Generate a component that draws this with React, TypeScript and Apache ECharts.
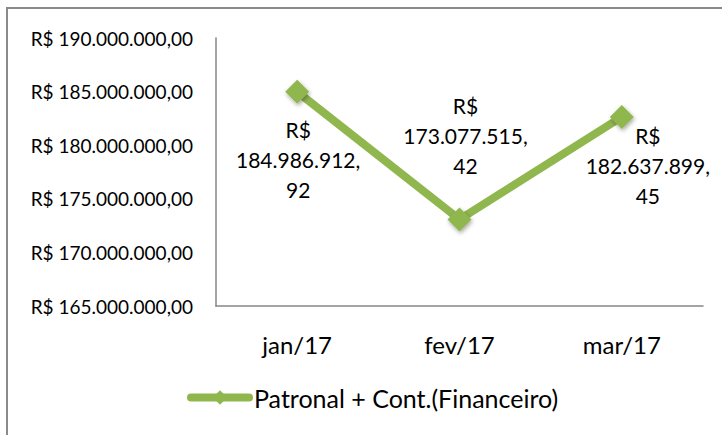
import React, { useEffect, useRef } from "react";
import * as echarts from "echarts";

const categories = ["jan/17", "fev/17", "mar/17"];
const seriesName = "Patronal + Cont.(Financeiro)";
const values = [184986912.92, 173077515.42, 182637899.45];
const yMin = 165000000;
const yMax = 190000000;
const yInterval = 5000000;
const labelOffsets: [number, number][] = [
  [1, 68],
  [6, -84],
  [26, 49],
];

const FONT = "Lato";
const GREEN = "#8FB74E";

function fmtBRL(v: number): string {
  const fixed = v.toFixed(2);
  const [intPart, dec] = fixed.split(".");
  const withDots = intPart.replace(/\B(?=(\d{3})+(?!\d))/g, ".");
  return `R$ ${withDots},${dec}`;
}

function fmtLabel(v: number): string {
  const fixed = v.toFixed(2);
  const [intPart, dec] = fixed.split(".");
  const withDots = intPart.replace(/\B(?=(\d{3})+(?!\d))/g, ".");
  return `R$\n${withDots},\n${dec}`;
}

export default function App() {
  const ref = useRef<HTMLDivElement>(null);
  useEffect(() => {
    if (!ref.current) return;
    const chart = echarts.init(ref.current, null, { renderer: "svg" });
    chart.setOption({
      animation: false,
      backgroundColor: "#ffffff",
      textStyle: { fontFamily: FONT },
      grid: { left: 216, right: 19, top: 38, bottom: 129, containLabel: false },
      graphic: [
        { type: "line", shape: { x1: 7, y1: 7, x2: 7, y2: 435 }, style: { stroke: "#8a8a8a", lineWidth: 2 } },
        { type: "line", shape: { x1: 7, y1: 8, x2: 722, y2: 8 }, style: { stroke: "#8a8a8a", lineWidth: 2 } },
      ],
      legend: {
        data: [seriesName],
        left: 187,
        top: 385,
        padding: 0,
        itemWidth: 58,
        itemHeight: 18,
        itemGap: 4,
        lineStyle: { width: 8, color: GREEN, cap: "round" },
        itemStyle: { color: GREEN },
        textStyle: { fontFamily: FONT, fontSize: 25, color: "#000" },
      },
      xAxis: {
        type: "category",
        data: categories,
        boundaryGap: true,
        axisLine: { lineStyle: { color: "#868686", width: 1.5 } },
        axisTick: { show: false },
        axisLabel: { fontFamily: FONT, fontSize: 24, color: "#000", margin: 26 },
      },
      yAxis: {
        type: "value",
        min: yMin,
        max: yMax,
        interval: yInterval,
        axisLine: { show: true, lineStyle: { color: "#868686", width: 1.5 } },
        axisTick: { show: false },
        splitLine: { show: false },
        axisLabel: {
          fontFamily: FONT,
          fontSize: 19,
          color: "#000",
          margin: 23,
          formatter: (v: number) => fmtBRL(v),
        },
      },
      series: [
        {
          name: seriesName,
          type: "line",
          data: values.map((v, i) => ({
            value: v,
            label: { offset: labelOffsets[i] },
          })),
          symbol: "diamond",
          symbolSize: 24,
          lineStyle: { color: GREEN, width: 8 },
          itemStyle: {
            color: GREEN,
            shadowColor: "rgba(0,0,0,0.35)",
            shadowBlur: 4,
            shadowOffsetX: 1,
            shadowOffsetY: 2,
          },
          label: {
            show: true,
            position: "inside",
            fontFamily: FONT,
            fontSize: 21,
            lineHeight: 30,
            color: "#000",
            align: "center",
            verticalAlign: "middle",
            formatter: (p: any) => fmtLabel(p.value),
          },
        },
      ],
    });
    return () => chart.dispose();
  }, []);
  return (
    <div
      ref={ref}
      style={{ position: "fixed", left: 0, top: 0, width: 722, height: 435, background: "#fff" }}
    />
  );
}
